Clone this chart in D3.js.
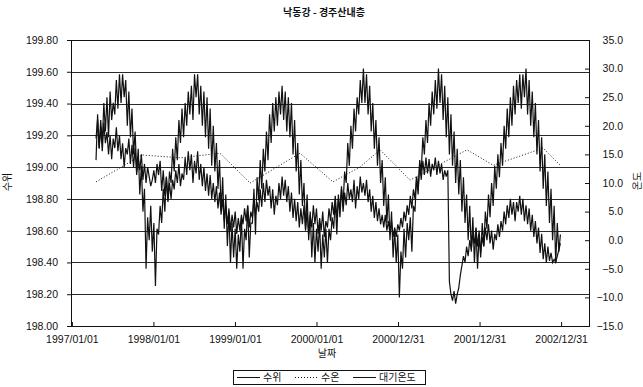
<!DOCTYPE html>
<html>
<head>
<meta charset="utf-8">
<script src="https://cdnjs.cloudflare.com/ajax/libs/d3/7.8.5/d3.min.js"></script>
<style>
body { margin: 0; background: #fff; }
text { font-family: "Liberation Sans", Arial, "Noto Sans CJK KR", sans-serif; font-size: 10.5px; fill: #111; }
.kr { font-family: "Noto Sans CJK KR", sans-serif; }
</style>
</head>
<body>
<script>
var chartTitle = "낙동강 - 경주산내층";
var levelTicks = [198.0, 198.2, 198.4, 198.6, 198.8, 199.0, 199.2, 199.4, 199.6, 199.8];
var tempTicks = [-15, -10, -5, 0, 5, 10, 15, 20, 25, 30, 35];
var dateTicks = ["1997/01/01", "1998/01/01", "1999/01/01", "2000/01/01", "2000/12/31", "2001/12/31", "2002/12/31"];
var axisStart = "1996/12/28", axisEnd = "2003/05/05";

// weekly readings from 1997/04/19
var seriesStart = "1997/04/19", stepDays = 7;

var waterLevel = [
  199.18, 199.30, 199.12, 199.25, 199.10, 199.28, 199.15, 199.22,
  199.08, 199.20, 199.05, 199.18, 199.12, 199.25, 199.10, 199.20,
  199.05, 199.15, 199.00, 199.12, 199.08, 199.18, 199.02, 199.14,
  199.00, 199.12, 198.95, 199.06, 198.98, 199.08, 198.92, 199.02,
  198.90, 199.00, 198.94, 198.88, 198.92, 198.98, 198.90, 199.02,
  198.95, 199.04, 198.85, 198.98, 198.82, 198.94, 198.78, 198.90,
  198.80, 198.92, 198.86, 198.98, 198.90, 199.02, 198.88, 198.96,
  198.92, 199.06, 198.95, 199.10, 198.98, 199.08, 198.90, 199.04,
  198.96, 199.10, 198.92, 199.02, 198.88, 199.00, 198.85, 198.96,
  198.82, 198.95, 198.80, 198.90, 198.78, 198.88, 198.74, 198.84,
  198.70, 198.80, 198.66, 198.76, 198.64, 198.74, 198.60, 198.70,
  198.62, 198.72, 198.58, 198.68, 198.60, 198.70, 198.64, 198.74,
  198.66, 198.76, 198.62, 198.72, 198.68, 198.80, 198.70, 198.78,
  198.72, 198.86, 198.75, 198.90, 198.78, 198.92, 198.82, 198.88,
  198.74, 198.86, 198.70, 198.82, 198.76, 198.90, 198.80, 198.94,
  198.82, 198.92, 198.78, 198.88, 198.72, 198.84, 198.68, 198.80,
  198.66, 198.78, 198.62, 198.74, 198.64, 198.76, 198.60, 198.72,
  198.58, 198.70, 198.62, 198.76, 198.64, 198.74, 198.58, 198.68,
  198.60, 198.72, 198.56, 198.66, 198.62, 198.74, 198.66, 198.78,
  198.70, 198.82, 198.68, 198.80, 198.74, 198.88, 198.72, 198.84,
  198.76, 198.90, 198.80, 198.86, 198.78, 198.92, 198.74, 198.88,
  198.80, 198.94, 198.84, 198.90, 198.82, 198.92, 198.78, 198.86,
  198.72, 198.82, 198.68, 198.78, 198.66, 198.74, 198.64, 198.70,
  198.62, 198.70, 198.60, 198.66, 198.58, 198.66, 198.56, 198.62,
  198.56, 198.64, 198.60, 198.68, 198.62, 198.72, 198.66, 198.76,
  198.70, 198.82, 198.74, 198.86, 198.80, 198.94, 198.86, 199.02,
  198.92, 199.04, 198.95, 199.06, 198.96, 199.05, 198.94, 199.02,
  198.98, 199.06, 198.95, 199.04, 198.96, 199.02, 198.92, 198.98,
  198.94, 198.98, 198.28, 198.20, 198.16, 198.22, 198.14, 198.20,
  198.24, 198.32, 198.38, 198.44, 198.40, 198.50, 198.44, 198.54,
  198.48, 198.58, 198.52, 198.62, 198.50, 198.60, 198.46, 198.56,
  198.50, 198.62, 198.54, 198.64, 198.52, 198.60, 198.48, 198.58,
  198.54, 198.64, 198.56, 198.66, 198.60, 198.72, 198.64, 198.76,
  198.68, 198.80, 198.70, 198.78, 198.66, 198.78, 198.72, 198.82,
  198.70, 198.80, 198.66, 198.76, 198.64, 198.74, 198.60, 198.70,
  198.56, 198.66, 198.52, 198.62, 198.46, 198.58, 198.42, 198.52,
  198.40, 198.50, 198.41, 198.46, 198.40, 198.42, 198.40, 198.44,
  198.48, 198.52
];

var airTemp = [
  14, 22, 16, 21, 17, 24, 19, 25, 18, 26, 21, 24, 22, 28, 23, 29,
  24, 29, 25, 28, 20, 26, 18, 23, 15, 19, 12, 16, 8, 13, 5, 9,
  -5, 4, 0, 6, -2, 3, -8, 2, 1, 6, 3, 9, 5, 11, 7, 12,
  10, 16, 12, 18, 14, 21, 17, 23, 18, 24, 20, 26, 22, 27, 21, 29,
  25, 29, 22, 27, 20, 26, 18, 25, 16, 23, 13, 20, 12, 17, 9, 14,
  5, 11, 2, 8, -1, 5, -4, 3, -3, 2, -5, 1, -2, 4, -5, 2,
  0, 6, -3, 3, 3, 9, 1, 11, 7, 14, 9, 16, 12, 19, 14, 22,
  17, 24, 19, 25, 20, 26, 22, 27, 21, 26, 19, 25, 18, 24, 15, 21,
  12, 17, 8, 14, 6, 10, 2, 8, 0, 5, -3, 3, -4, 2, -2, 3,
  -5, 1, -3, 2, -4, 2, 0, 4, 2, 7, 1, 8, 4, 9, 6, 12,
  10, 17, 13, 20, 16, 23, 19, 25, 22, 28, 24, 30, 24, 29, 22, 27,
  19, 24, 16, 21, 13, 18, 10, 14, 6, 11, 3, 8, 0, 5, -3, 2,
  -4, 1, -10, -2, -5, 2, -3, 3, 0, 4, -2, 6, 5, 11, 8, 14,
  12, 18, 15, 21, 17, 24, 20, 26, 22, 28, 23, 30, 24, 29, 21, 27,
  18, 25, 15, 22, 13, 19, 10, 16, 8, 14, 5, 11, 3, 8, 0, 6,
  -2, 4, -4, 2, -5, 1, -3, 3, -1, 5, 2, 8, 4, 10, 6, 13,
  9, 15, 11, 17, 13, 20, 16, 23, 18, 25, 20, 27, 22, 28, 24, 29,
  23, 29, 25, 30, 22, 28, 20, 26, 18, 24, 15, 21, 12, 18, 9, 15,
  6, 12, 3, 9, 0, 6, -4, 3, -2, 1
];

var waterTempDates = ["1997/04/19", "1997/11/11", "1998/04/30", "1998/10/26", "1999/03/10", "1999/10/19",
  "2000/03/15", "2000/07/14", "2000/10/12", "2001/02/23", "2001/04/22", "2001/11/05",
  "2002/03/02", "2002/10/12", "2002/12/27"];
var waterTemp = [10.2, 14.9, 14.4, 15.2, 10.0, 15.2, 10.2, 12.8, 15.8, 10.5, 11.7, 15.8, 13.1, 16.1, 13.1];

var legendNames = ["수위", "수온", "대기온도"];

var margin = { top: 40, right: 54, bottom: 61, left: 71 },
  width = 643 - margin.left - margin.right,
  height = 387 - margin.top - margin.bottom;

var parseDate = d3.timeParse("%Y/%m/%d");
var start = parseDate(seriesStart);

var levelData = waterLevel.map(function (v, i) { return { date: d3.timeDay.offset(start, i * stepDays), value: v }; });
var airData = airTemp.map(function (v, i) { return { date: d3.timeDay.offset(start, i * stepDays), value: v }; });
var waterData = waterTemp.map(function (v, i) { return { date: parseDate(waterTempDates[i]), value: v }; });

var x = d3.scaleTime().domain([parseDate(axisStart), parseDate(axisEnd)]).range([0, width]);
var yL = d3.scaleLinear().domain([198.0, 199.8]).range([height, 0]);
var yR = d3.scaleLinear().domain([-15, 35]).range([height, 0]);

var svg = d3.select("body").append("svg")
  .attr("width", 643)
  .attr("height", 387);

svg.append("text")
  .attr("class", "kr")
  .attr("x", 324)
  .attr("y", 16)
  .attr("text-anchor", "middle")
  .style("font-size", "10px")
  .style("font-weight", "bold")
  .text(chartTitle);

var chart = svg.append("g")
  .attr("transform", "translate(" + margin.left + "," + margin.top + ")");

chart.selectAll(".grid")
  .data(levelTicks.slice(1, -1))
  .enter().append("line")
  .attr("class", "grid")
  .attr("x1", 0)
  .attr("x2", width)
  .attr("y1", function (d) { return Math.round(yL(d)) + 0.5; })
  .attr("y2", function (d) { return Math.round(yL(d)) + 0.5; })
  .style("stroke", "#2a2a2a")
  .style("stroke-width", 1);

var levelLine = d3.line()
  .x(function (d) { return x(d.date); })
  .y(function (d) { return yL(d.value); });

var tempLine = d3.line()
  .x(function (d) { return x(d.date); })
  .y(function (d) { return yR(d.value); });

chart.append("path")
  .datum(waterData)
  .attr("d", tempLine)
  .style("fill", "none")
  .style("stroke", "#111")
  .style("stroke-width", 1)
  .style("stroke-dasharray", "1,2");

chart.append("path")
  .datum(airData)
  .attr("d", tempLine)
  .style("fill", "none")
  .style("stroke", "#111")
  .style("stroke-width", 1.2);

chart.append("path")
  .datum(levelData)
  .attr("d", levelLine)
  .style("fill", "none")
  .style("stroke", "#111")
  .style("stroke-width", 1.2);

var leftAxis = chart.append("g")
  .call(d3.axisLeft(yL).tickValues(levelTicks).tickFormat(d3.format(".2f")).tickSize(4).tickPadding(9));

var rightAxis = chart.append("g")
  .attr("transform", "translate(" + width + ",0)")
  .call(d3.axisRight(yR).tickValues(tempTicks).tickFormat(d3.format(".1f")).tickSizeInner(-4).tickSizeOuter(0));
rightAxis.selectAll("text")
  .attr("x", 34)
  .attr("text-anchor", "end");

var bottomAxis = chart.append("g")
  .attr("transform", "translate(0," + height + ")")
  .call(d3.axisBottom(x).tickValues(dateTicks.map(parseDate)).tickFormat(d3.timeFormat("%Y/%m/%d")).tickSizeInner(-4).tickSizeOuter(0).tickPadding(10));

chart.selectAll(".domain").remove();
chart.selectAll(".tick line").style("stroke", "#111");
chart.selectAll(".tick text").style("fill", "#111");

chart.append("rect")
  .attr("x", 0.5)
  .attr("y", 0.5)
  .attr("width", width)
  .attr("height", height)
  .style("fill", "none")
  .style("stroke", "#111")
  .style("stroke-width", 1);

svg.append("text")
  .attr("class", "kr")
  .attr("transform", "translate(11,182) rotate(-90)")
  .attr("text-anchor", "middle")
  .style("font-size", "10px")
  .text("수위");

svg.append("text")
  .attr("class", "kr")
  .attr("transform", "translate(641,181) rotate(-90)")
  .attr("text-anchor", "middle")
  .style("font-size", "10px")
  .text("온도");

svg.append("text")
  .attr("class", "kr")
  .attr("x", 327)
  .attr("y", 357)
  .attr("text-anchor", "middle")
  .style("font-size", "10px")
  .text("날짜");

var legend = svg.append("g");
legend.append("rect")
  .attr("x", 233.5)
  .attr("y", 370.5)
  .attr("width", 192)
  .attr("height", 14)
  .style("fill", "#fff")
  .style("stroke", "#111");

var legendX = [237, 295, 353];
legendNames.forEach(function (name, i) {
  legend.append("line")
    .attr("x1", legendX[i])
    .attr("x2", legendX[i] + 23)
    .attr("y1", 377.5)
    .attr("y2", 377.5)
    .style("stroke", "#111")
    .style("stroke-dasharray", i === 1 ? "1,2" : null);
  legend.append("text")
    .attr("class", "kr")
    .attr("x", legendX[i] + 26)
    .attr("y", 381)
    .style("font-size", "10px")
    .text(name);
});
</script>
</body>
</html>
